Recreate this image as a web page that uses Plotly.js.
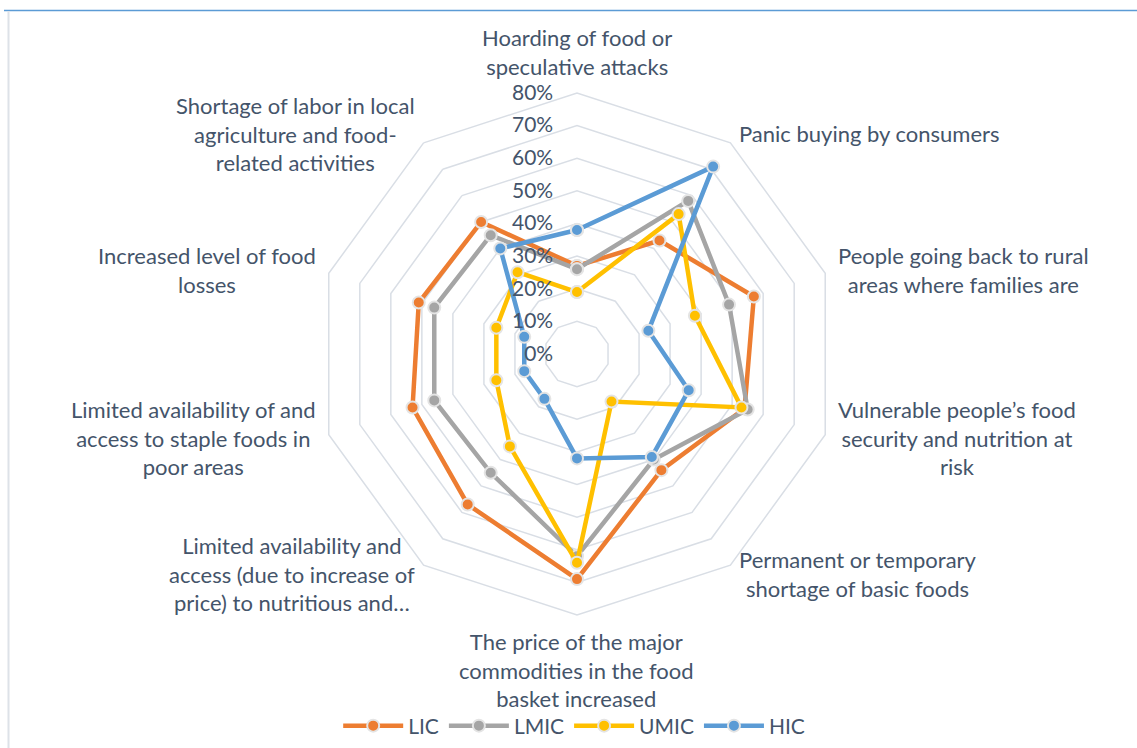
<!DOCTYPE html>
<html>
<head>
<meta charset="utf-8">
<script src="https://cdn.plot.ly/plotly-3.0.1.min.js"></script>
<style>html,body{margin:0;padding:0;background:#fff;}#chart{width:1137px;height:748px;}</style>
</head>
<body>
<div id="chart"></div>
<script>
const categories = [
  "Hoarding of food or speculative attacks",
  "Panic buying by consumers",
  "People going back to rural areas where families are",
  "Vulnerable people’s food security and nutrition at risk",
  "Permanent or temporary shortage of basic foods",
  "The price of the major commodities in the food basket increased",
  "Limited availability and access (due to increase of price) to nutritious and…",
  "Limited availability of and access to staple foods in poor areas",
  "Increased level of food losses",
  "Shortage of labor in local agriculture and food-related activities"
];
const categoryLabels = [
  "Hoarding of food or<br>speculative attacks",
  "Panic buying by consumers",
  "People going back to rural<br>areas where families are",
  "Vulnerable people’s food<br>security and nutrition at<br>risk",
  "Permanent or temporary<br>shortage of basic foods",
  "The price of the major<br>commodities in the food<br>basket increased",
  "Limited availability and<br>access (due to increase of<br>price) to nutritious and…",
  "Limited availability of and<br>access to staple foods in<br>poor areas",
  "Increased level of food<br>losses",
  "Shortage of labor in local<br>agriculture and food-<br>related activities"
];
const seriesNames = ["LIC", "LMIC", "UMIC", "HIC"];
const LIC  = [0.27, 0.43, 0.57, 0.54, 0.44, 0.69, 0.57, 0.53, 0.51, 0.50];
const LMIC = [0.26, 0.58, 0.49, 0.55, 0.40, 0.62, 0.45, 0.46, 0.46, 0.45];
const UMIC = [0.19, 0.53, 0.38, 0.53, 0.18, 0.64, 0.35, 0.26, 0.26, 0.31];
const HIC  = [0.38, 0.71, 0.23, 0.36, 0.39, 0.32, 0.17, 0.17, 0.17, 0.40];
const radialTicks = [0, 0.1, 0.2, 0.3, 0.4, 0.5, 0.6, 0.7, 0.8];

const colors = ["#ED7D31", "#A5A5A5", "#FFC000", "#5B9BD5"];
const values = [LIC, LMIC, UMIC, HIC];
const textColor = "#44546A";
const gridColor = "#D9DEE5";
const font = "Lato, 'Open Sans', sans-serif";

const W = 1137, H = 748;
const domX = [316 / W, 838 / W], domY = [133 / H, 655 / H];

const traces = values.map((v, i) => ({
  type: "scatterpolar",
  mode: "lines+markers",
  name: seriesNames[i],
  r: v.concat([v[0]]),
  theta: categories.concat([categories[0]]),
  line: {color: colors[i], width: 4.5},
  marker: {color: colors[i], size: 12, line: {color: "#E4E4E4", width: 2}},
  hoverinfo: "name+r+theta"
}));

// Category labels placed just outside each vertex of the outer ring, Excel-style
const cxPx = (domX[0] + domX[1]) / 2 * W;
const cyPx = (domY[0] + domY[1]) / 2 * H;
const Rpx = Math.min((domX[1] - domX[0]) * W, (domY[1] - domY[0]) * H) / 2;
const pad = 11;
const annotations = categoryLabels.map((txt, i) => {
  const a = (90 - 360 / categories.length * i) * Math.PI / 180;
  const c = Math.cos(a), s = Math.sin(a);
  const px = cxPx + (Rpx + pad) * c;
  const py = cyPx + (Rpx + pad) * s;
  let xanchor = "center", yanchor = "middle";
  if (c > 0.1) xanchor = "left"; else if (c < -0.1) xanchor = "right";
  else yanchor = s > 0 ? "bottom" : "top";
  return {
    text: txt, xref: "paper", yref: "paper", x: px / W, y: py / H,
    xanchor: xanchor, yanchor: yanchor, align: "center", showarrow: false,
    font: {family: font, size: 22, color: textColor}
  };
});

const layout = {
  width: W, height: H,
  margin: {l: 0, r: 0, t: 0, b: 0},
  paper_bgcolor: "#ffffff",
  font: {family: font, size: 22, color: textColor},
  showlegend: true,
  legend: {orientation: "h", x: 0.505, xanchor: "center", y: 22 / H, yanchor: "middle",
           font: {size: 21, color: textColor}, itemwidth: 60, traceorder: "normal",
           bgcolor: "rgba(0,0,0,0)"},
  polar: {
    domain: {x: domX, y: domY},
    bgcolor: "rgba(0,0,0,0)",
    gridshape: "linear",
    radialaxis: {
      range: [0, 0.8], tickvals: radialTicks, tickformat: ".0%",
      angle: 90, side: "counterclockwise", tickangle: 90,
      showline: false, gridcolor: gridColor, gridwidth: 1.5,
      ticks: "outside", ticklen: 16, tickcolor: "rgba(0,0,0,0)",
      tickfont: {size: 21, color: textColor}
    },
    angularaxis: {
      type: "category", categoryarray: categories,
      rotation: 90, direction: "clockwise",
      showgrid: false, showline: true, linecolor: gridColor, linewidth: 1.5,
      ticks: "", showticklabels: false
    }
  },
  annotations: annotations,
  shapes: [
    {type: "line", xref: "paper", yref: "paper", x0: 4 / W, x1: 1, y0: 1 - 10.5 / H, y1: 1 - 10.5 / H,
     line: {color: "#5B9BD5", width: 1.5}},
    {type: "line", xref: "paper", yref: "paper", x0: 8.5 / W, x1: 8.5 / W, y0: 0, y1: 1 - 11 / H,
     line: {color: "#DDE2E8", width: 2}}
  ]
};

Plotly.newPlot("chart", traces, layout, {displayModeBar: false, staticPlot: true});
</script>
</body>
</html>
